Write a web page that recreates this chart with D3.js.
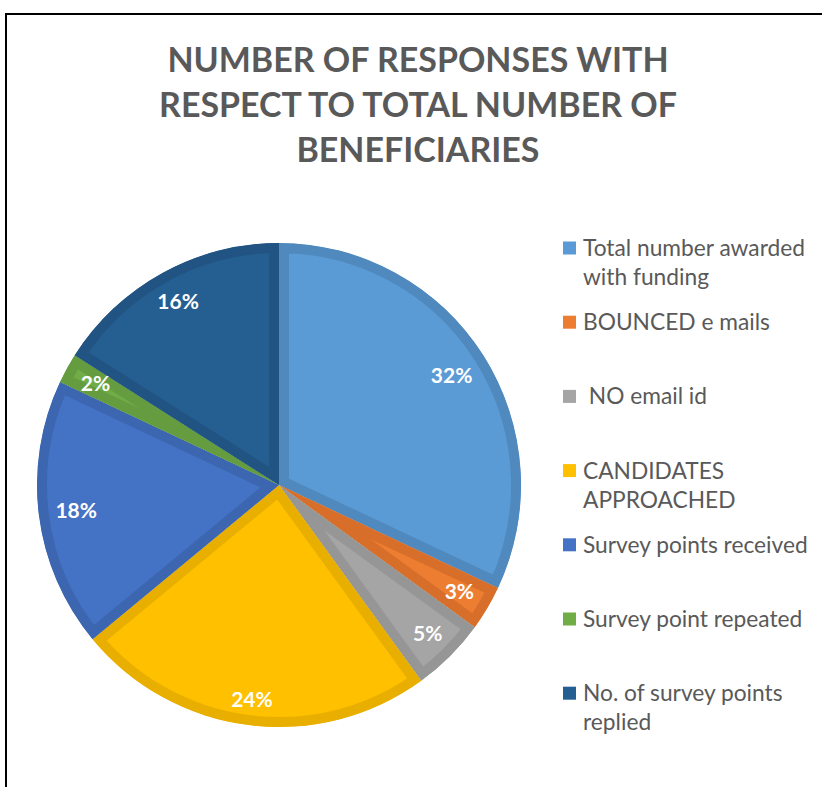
<!DOCTYPE html>
<html>
<head>
<meta charset="utf-8">
<script src="https://cdn.jsdelivr.net/npm/d3@7"></script>
<style>
  body { margin: 0; background: #ffffff; }
  svg { display: block; }
</style>
</head>
<body>
<svg id="chart" width="822" height="787"></svg>
<script>
// Chart content
const titleLines = ["NUMBER OF RESPONSES WITH", "RESPECT TO TOTAL NUMBER OF", "BENEFICIARIES"];
const categories = [
  "Total number awarded with funding",
  "BOUNCED e mails",
  " NO email id",
  "CANDIDATES APPROACHED",
  "Survey points received",
  "Survey point repeated",
  "No. of survey points replied"
];
const legendLines = [
  ["Total number awarded", "with funding"],
  ["BOUNCED e mails"],
  [" NO email id"],
  ["CANDIDATES", "APPROACHED"],
  ["Survey points received"],
  ["Survey point repeated"],
  ["No. of survey points", "replied"]
];
const shares = [32, 3, 5, 24, 18, 2, 16];
const fillColors = ["#5B9BD5", "#ED7D31", "#A5A5A5", "#FFC000", "#4472C4", "#70AD47", "#255E91"];
const edgeColors = ["#4F89BE", "#D76F2A", "#969696", "#E8AF00", "#3D66B0", "#649C3F", "#215483"];

const svg = d3.select("#chart");
const W = 822, H = 787;

// frame around the chart area
svg.append("rect")
  .attr("x", 6).attr("y", 14)
  .attr("width", W + 20).attr("height", H + 20)
  .attr("fill", "#ffffff")
  .attr("stroke", "#000000")
  .attr("stroke-width", 2);

// fit a group of text elements so a reference line has the given width
function fitFont(sel, refNode, targetWidth, baseSize) {
  const w = refNode.getComputedTextLength();
  const size = baseSize * targetWidth / w;
  sel.attr("font-size", size);
  return size;
}

// Title
const titleG = svg.append("g").attr("class", "title");
const titleText = titleG.selectAll("text")
  .data(titleLines)
  .join("text")
  .attr("x", 418)
  .attr("y", (d, i) => 60 + i * 45)
  .attr("dy", "0.35em")
  .attr("text-anchor", "middle")
  .attr("font-family", "Lato, 'Open Sans', sans-serif")
  .attr("font-weight", "bold")
  .attr("font-size", 30)
  .attr("fill", "#595959")
  .text(d => d);
fitFont(titleText, titleText.nodes()[1], 518, 30);

// Pie
const cx = 279, cy = 485, R = 242, border = 10;
const pie = d3.pie().sort(null).value(d => d);
const arcs = pie(shares);
const arc = d3.arc().innerRadius(0).outerRadius(R);

// each slice clips its own (double-width) stroke so the border sits inside it;
// clip paths are resolved in the slice's own (translated) user space
const defs = svg.append("defs");
defs.selectAll("clipPath")
  .data(arcs)
  .join("clipPath")
  .attr("id", (d, i) => "slice-clip-" + i)
  .append("path")
  .attr("d", arc);

const pieG = svg.append("g").attr("transform", `translate(${cx},${cy})`);
pieG.selectAll("path")
  .data(arcs)
  .join("path")
  .attr("d", arc)
  .attr("fill", (d, i) => fillColors[i])
  .attr("stroke", (d, i) => edgeColors[i])
  .attr("stroke-width", border * 2)
  .attr("stroke-linejoin", "miter")
  .attr("clip-path", (d, i) => `url(#slice-clip-${i})`);

// Percentage labels, placed inside the outer edge of each slice
const labelG = svg.append("g");
const insideR = 226;
const labels = labelG.selectAll("text")
  .data(arcs)
  .join("text")
  .attr("text-anchor", "middle")
  .attr("dy", "0.35em")
  .attr("font-family", "Lato, 'Open Sans', sans-serif")
  .attr("font-weight", "bold")
  .attr("font-size", 21)
  .attr("fill", "#ffffff")
  .text(d => d.value + "%");
labels.each(function(d) {
  const a = (d.startAngle + d.endAngle) / 2;
  const sx = Math.sin(a), sy = -Math.cos(a);
  const w = this.getComputedTextLength();
  const h = 15;
  const dist = insideR - (Math.abs(sx) * w / 2 + Math.abs(sy) * h / 2);
  d3.select(this).attr("x", cx + sx * dist).attr("y", cy + sy * dist);
});

// Legend
const legendG = svg.append("g").attr("class", "legend");
const entry = legendG.selectAll("g")
  .data(legendLines)
  .join("g")
  .attr("transform", (d, i) => `translate(563, ${248 + i * 74.2})`);
entry.append("rect")
  .attr("x", 0).attr("y", -6.5)
  .attr("width", 13).attr("height", 13)
  .attr("fill", (d, i) => fillColors[i]);
entry.selectAll("text")
  .data(d => d)
  .join("text")
  .attr("x", 20)
  .attr("y", (d, j) => j * 29)
  .attr("dy", "0.35em")
  .attr("font-family", "Lato, 'Open Sans', sans-serif")
  .attr("font-size", 20)
  .attr("fill", "#595959")
  .style("white-space", "pre")
  .attr("xml:space", "preserve")
  .text(d => d);
fitFont(legendG.selectAll("text"), legendG.select("text").node(), 222, 20);
</script>
</body>
</html>
